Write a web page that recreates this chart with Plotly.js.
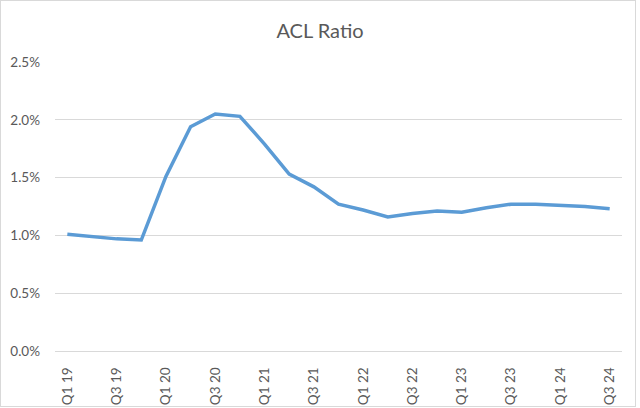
<!DOCTYPE html>
<html>
<head>
<meta charset="utf-8">
<script src="https://cdn.plot.ly/plotly-3.0.1.min.js"></script>
<style>
  html, body { margin: 0; padding: 0; background: #fff; }
  #wrap { position: relative; width: 640px; height: 408px; }
  #chart { width: 640px; height: 408px; }
  #frame { position: absolute; left: 0; top: 0; width: 634px; height: 405px; border: 1px solid #d9d9d9; pointer-events: none; }
</style>
</head>
<body>
<div id="wrap">
  <div id="chart"></div>
  <div id="frame"></div>
</div>
<script>
const quarters = ["Q1 19","Q2 19","Q3 19","Q4 19","Q1 20","Q2 20","Q3 20","Q4 20",
                  "Q1 21","Q2 21","Q3 21","Q4 21","Q1 22","Q2 22","Q3 22","Q4 22",
                  "Q1 23","Q2 23","Q3 23","Q4 23","Q1 24","Q2 24","Q3 24"];
const aclRatio = [1.01, 0.99, 0.97, 0.96, 1.51, 1.94, 2.05, 2.03,
                  1.79, 1.53, 1.42, 1.27, 1.22, 1.16, 1.19, 1.21,
                  1.20, 1.24, 1.27, 1.27, 1.26, 1.25, 1.23];
const xTickLabels = ["Q1 19","Q3 19","Q1 20","Q3 20","Q1 21","Q3 21","Q1 22","Q3 22","Q1 23","Q3 23","Q1 24","Q3 24"];
const yTickVals = [0, 0.5, 1.0, 1.5, 2.0, 2.5];
const yTickText = ["0.0%","0.5%","1.0%","1.5%","2.0%","2.5%"];

const trace = {
  x: quarters,
  y: aclRatio,
  type: "scatter",
  mode: "lines",
  line: { color: "#5B9BD5", width: 3.5 },
  hoverinfo: "skip"
};

const layout = {
  width: 640,
  height: 408,
  margin: { l: 55, r: 18, t: 62, b: 57 },
  paper_bgcolor: "#ffffff",
  plot_bgcolor: "#ffffff",
  showlegend: false,
  font: { family: "Lato, 'Open Sans', sans-serif", color: "#595959", size: 13 },
  title: {
    text: "ACL Ratio",
    font: { family: "Lato, 'Open Sans', sans-serif", size: 20, color: "#595959" },
    x: 0.5, xref: "container", xanchor: "center",
    y: 28, yref: "container", yanchor: "middle"
  },
  xaxis: {
    type: "category",
    tickmode: "array",
    tickvals: xTickLabels,
    ticktext: xTickLabels,
    tickangle: -90,
    showgrid: false,
    showline: true,
    linecolor: "#d9d9d9",
    linewidth: 1,
    ticks: "",
    ticklabelstandoff: 10,
    tickfont: { size: 13.5, color: "#595959" },
    range: [-0.5, quarters.length - 0.5],
    fixedrange: true
  },
  yaxis: {
    range: [0, 2.5],
    tickmode: "array",
    tickvals: yTickVals,
    ticktext: yTickText,
    showgrid: true,
    gridcolor: "#d9d9d9",
    gridwidth: 1,
    zeroline: false,
    showline: false,
    ticks: "",
    ticklabelstandoff: 14,
    tickfont: { size: 13.5, color: "#595959" },
    fixedrange: true
  }
};

Plotly.newPlot("chart", [trace], layout, { displayModeBar: false, staticPlot: true });
</script>
</body>
</html>
